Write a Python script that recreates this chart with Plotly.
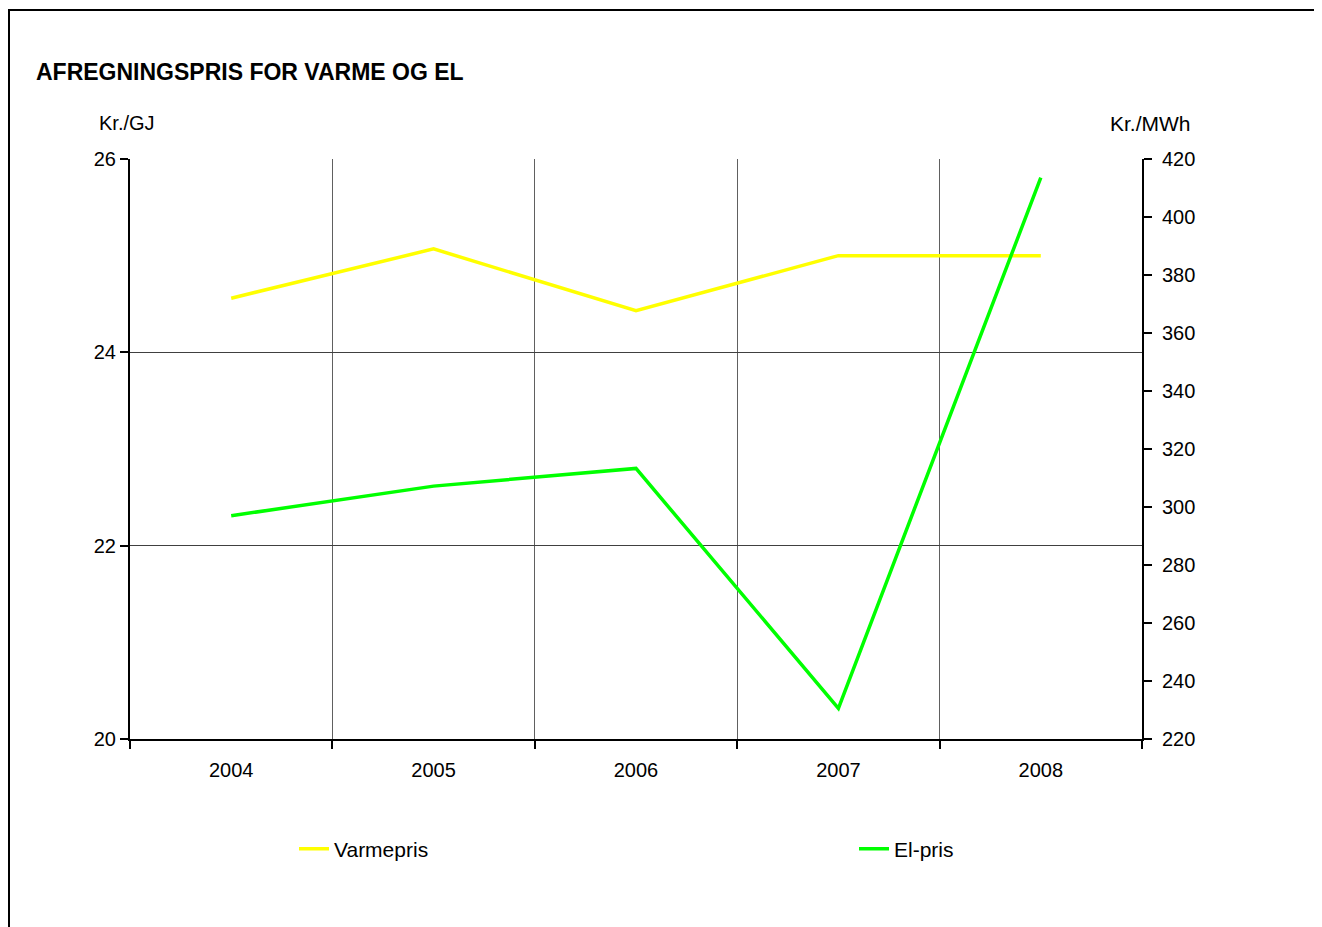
import plotly.graph_objects as go

years = ["2004", "2005", "2006", "2007", "2008"]
varmepris = [24.56, 25.07, 24.43, 25.0, 25.0]   # Kr./GJ (left axis)
el_pris = [297.0, 307.2, 313.3, 230.6, 413.6]    # Kr./MWh (right axis)
left_ticks = [20, 22, 24, 26]
right_ticks = [220, 240, 260, 280, 300, 320, 340, 360, 380, 400, 420]

OFF = 8  # page body margin
W, H = 1322, 927
L, T = 130 - OFF, 159 - OFF
PR, PB = 1142 - OFF, 739 - OFF
R, B = W - PR, H - PB
pw, ph = PR - L, PB - T

def px_x(px):
    return (px - OFF - L) / pw

def px_y(py):
    return (PB - (py - OFF)) / ph

font = "Liberation Sans, Arial, sans-serif"
FS = 20

fig = go.Figure()
fig.add_trace(go.Scatter(x=years, y=varmepris, name="Varmepris", mode="lines",
                         line=dict(color="#FFFF00", width=3.5), yaxis="y",
                         legend="legend"))
fig.add_trace(go.Scatter(x=years, y=el_pris, name="El-pris", mode="lines",
                         line=dict(color="#00FF00", width=3.5), yaxis="y2",
                         legend="legend2"))

leg_common = dict(orientation="h", yanchor="middle", xanchor="left",
                  font=dict(size=21, family=font), bgcolor="rgba(0,0,0,0)")

fig.update_layout(
    width=W, height=H,
    margin=dict(l=L, r=R, t=T, b=B, pad=0),
    paper_bgcolor="white", plot_bgcolor="white",
    font=dict(family=font, size=FS, color="black"),
    showlegend=True,
    legend=dict(x=px_x(294), y=px_y(849), **leg_common),
    legend2=dict(x=px_x(854), y=px_y(849), **leg_common),
    xaxis=dict(type="category", tickson="boundaries", ticks="outside", ticklen=8,
               tickwidth=2, tickcolor="black", showline=True, linecolor="black",
               linewidth=2, showgrid=True, gridcolor="#606060", gridwidth=1,
               tickfont=dict(size=FS), range=[-0.5, 4.5], zeroline=False,
               ticklabelstandoff=12),
    yaxis=dict(range=[20, 26], tickvals=left_ticks, ticks="outside", ticklen=8,
               tickwidth=2, tickcolor="black", showline=True, linecolor="black",
               linewidth=2, showgrid=True, gridcolor="#404040", gridwidth=1,
               zeroline=False, tickfont=dict(size=FS), ticklabelstandoff=0),
    yaxis2=dict(range=[220, 420], tickvals=right_ticks, overlaying="y", side="right",
                ticks="outside", ticklen=8, tickwidth=2, tickcolor="black",
                showline=True, linecolor="black", linewidth=2, showgrid=False,
                zeroline=False, tickfont=dict(size=FS), ticklabelstandoff=6),
    annotations=[
        dict(text="<b>AFREGNINGSPRIS FOR VARME OG EL</b>", xref="paper", yref="paper",
             x=px_x(34), y=px_y(72), xanchor="left", yanchor="middle",
             showarrow=False, font=dict(size=23, family=font)),
        dict(text="Kr./GJ", xref="paper", yref="paper", x=px_x(127), y=px_y(123),
             xanchor="center", yanchor="middle", showarrow=False, font=dict(size=FS)),
        dict(text="Kr./MWh", xref="paper", yref="paper", x=px_x(1150), y=px_y(123),
             xanchor="center", yanchor="middle", showarrow=False, font=dict(size=21)),
    ],
    shapes=[
        dict(type="rect", xref="paper", yref="paper", x0=px_x(9), y0=px_y(990),
             x1=px_x(1380), y1=px_y(10), line=dict(color="black", width=2),
             fillcolor="rgba(0,0,0,0)", layer="below"),
    ],
)

fig.write_html("out.html")
